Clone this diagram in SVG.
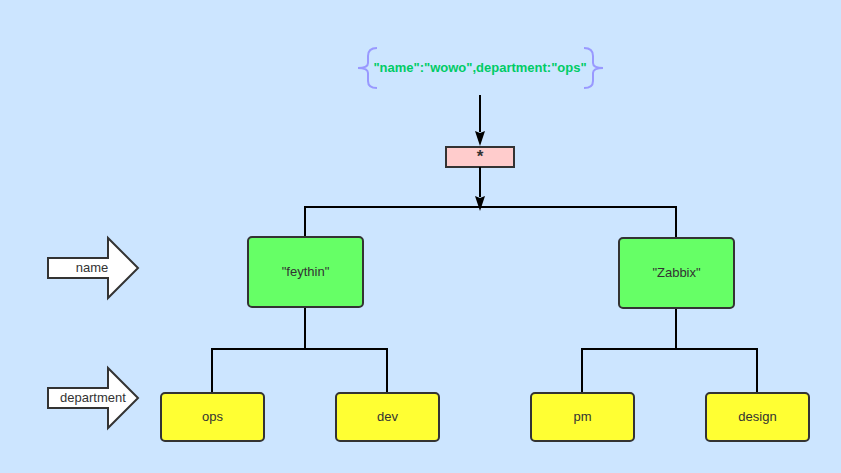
<svg xmlns="http://www.w3.org/2000/svg" width="841" height="473" viewBox="0 0 841 473">
<style>
.t{font-family:"Liberation Sans",Arial,sans-serif;font-size:13px;fill:#333;text-anchor:middle}
.g{fill:#66ff66;stroke:#333;stroke-width:2}
.y{fill:#ffff33;stroke:#333;stroke-width:2}
.c{fill:none;stroke:#000;stroke-width:2}
.ba{fill:#fff;stroke:#333;stroke-width:2;stroke-linejoin:miter}
.br{fill:none;stroke:#9999ff;stroke-width:2}
</style>
<rect width="841" height="473" fill="#cce5ff"/>
<g id="query">
<path class="br" d="M377,48 Q368,48 368,56 L368,63 Q368,68 358,68 Q368,68 368,73 L368,81 Q368,88 377,88"/>
<path class="br" d="M584,48 Q593,48 593,56 L593,63 Q593,68 603,68 Q593,68 593,73 L593,81 Q593,88 584,88"/>
<text x="480" y="72" style="font-family:'Liberation Sans',Arial,sans-serif;font-size:13px;font-weight:bold;fill:#00cc66;text-anchor:middle">"name":"wowo",department:"ops"</text>
</g>
<g id="star">
<rect x="446" y="147" width="68" height="20" fill="#ffcccc" stroke="#333" stroke-width="2"/>
<text x="480" y="162" class="t" style="font-weight:bold;font-size:17px">*</text>
</g>
<g id="connectors">
<path class="c" d="M480,95 V132"/>
<path d="M475,131 L480,146 L485,131 L480,133 Z" fill="#000"/>
<path class="c" d="M480,167 V197"/>
<path d="M475,196 L480,211 L485,196 L480,198 Z" fill="#000"/>
<path class="c" d="M305,237 V207 H676 V238"/>
<path class="c" d="M305,307 V349"/>
<path class="c" d="M212,393 V349 H387 V393"/>
<path class="c" d="M676,308 V349"/>
<path class="c" d="M582,393 V349 H757 V393"/>
</g>
<g id="arrow-name">
<path class="ba" d="M48,258 H108 V238 L138,268 L108,298 V278 H48 Z"/>
<text x="92" y="272" class="t">name</text>
</g>
<g id="arrow-department">
<path class="ba" d="M48,388 H108 V368 L138,398 L108,428 V408 H48 Z"/>
<text x="93" y="402" class="t">department</text>
</g>
<g id="feythin">
<rect class="g" x="248" y="237" width="115" height="70" rx="4"/>
<text x="305.5" y="276" class="t">"feythin"</text>
</g>
<g id="zabbix">
<rect class="g" x="619" y="238" width="115" height="70" rx="4"/>
<text x="676.5" y="277" class="t">"Zabbix"</text>
</g>
<g id="ops">
<rect class="y" x="161" y="393" width="103" height="48" rx="4"/>
<text x="212.5" y="421" class="t">ops</text>
</g>
<g id="dev">
<rect class="y" x="336" y="393" width="103" height="48" rx="4"/>
<text x="387.5" y="421" class="t">dev</text>
</g>
<g id="pm">
<rect class="y" x="531" y="393" width="103" height="48" rx="4"/>
<text x="582.5" y="421" class="t">pm</text>
</g>
<g id="design">
<rect class="y" x="706" y="393" width="103" height="48" rx="4"/>
<text x="757.5" y="421" class="t">design</text>
</g>
</svg>
